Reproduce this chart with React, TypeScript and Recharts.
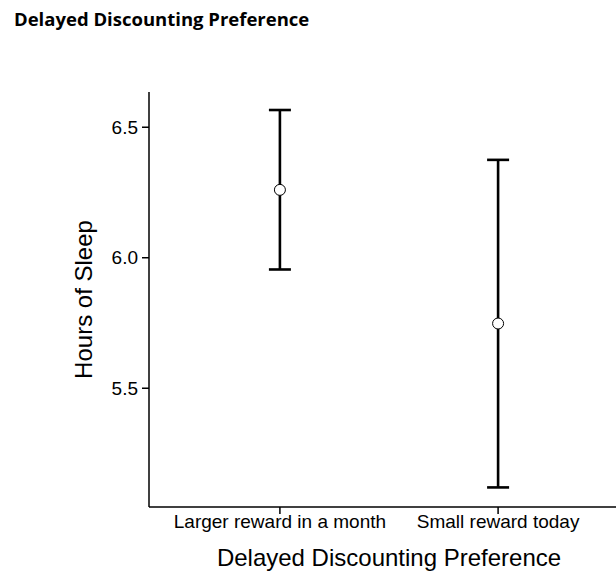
import { ComposedChart, Line, XAxis, YAxis, ErrorBar } from 'recharts';

const categories = ['Larger reward in a month', 'Small reward today'];
const means = [6.26, 5.748];
const lowerCI = [5.955, 5.12];
const upperCI = [6.566, 6.375];
const yTicks = [5.5, 6.0, 6.5];

const data = categories.map((name, i) => ({
  x: i + 1,
  name,
  mean: means[i],
  ci: [means[i] - lowerCI[i], upperCI[i] - means[i]],
}));

const AXIS_FONT = '"Liberation Sans", Arial, sans-serif';

export default function App() {
  return (
    <div
      style={{
        position: 'absolute',
        left: 0,
        top: 0,
        width: 616,
        height: 576,
        overflow: 'hidden',
        background: '#fff',
      }}
    >
      <div
        style={{
          position: 'absolute',
          left: 14,
          top: 5,
          fontFamily: '"Open Sans", sans-serif',
          fontWeight: 700,
          fontSize: 18.5,
          lineHeight: '28px',
          color: '#000',
          whiteSpace: 'nowrap',
        }}
      >
        Delayed Discounting Preference
      </div>
      <ComposedChart
        width={629}
        height={576}
        data={data}
        margin={{ top: 92, right: 0, bottom: 0, left: 0 }}
        style={{ position: 'absolute', left: 0, top: 0 }}
      >
        <XAxis
          dataKey="x"
          type="number"
          domain={[0.4, 2.6]}
          ticks={[1, 2]}
          allowDataOverflow
          height={69}
          tickFormatter={(v: number) => categories[v - 1] ?? ''}
          tick={{ fontSize: 19, fill: '#000', fontFamily: AXIS_FONT }}
          stroke="#000"
          strokeWidth={1.5}
          tickSize={7}
          tickMargin={1}
          label={{
            content: (props: any) => {
              const vb = props.viewBox;
              return (
                <text
                  x={vb.x + vb.width / 2}
                  y={vb.y + 59}
                  textAnchor="middle"
                  fontSize={24}
                  fontFamily={AXIS_FONT}
                  fill="#000"
                >
                  Delayed Discounting Preference
                </text>
              );
            },
          }}
        />
        <YAxis
          type="number"
          domain={[5.045, 6.635]}
          ticks={yTicks}
          allowDataOverflow
          width={149}
          tickFormatter={(v: number) => v.toFixed(1)}
          tick={{ fontSize: 19, fill: '#000', fontFamily: AXIS_FONT }}
          stroke="#000"
          strokeWidth={1.5}
          tickSize={7}
          tickMargin={4}
          label={{
            content: (props: any) => {
              const vb = props.viewBox;
              const cx = vb.x + 92;
              const cy = vb.y + vb.height / 2;
              return (
                <text
                  x={cx}
                  y={cy}
                  transform={`rotate(-90 ${cx} ${cy})`}
                  textAnchor="middle"
                  fontSize={24}
                  fontFamily={AXIS_FONT}
                  fill="#000"
                >
                  Hours of Sleep
                </text>
              );
            },
          }}
        />
        <Line
          dataKey="mean"
          stroke="none"
          isAnimationActive={false}
          dot={{ r: 5.5, fill: '#fff', stroke: '#000', strokeWidth: 1, fillOpacity: 1 }}
          activeDot={false}
        >
          <ErrorBar dataKey="ci" direction="y" width={11} stroke="#000" strokeWidth={2.6} />
        </Line>
      </ComposedChart>
    </div>
  );
}
